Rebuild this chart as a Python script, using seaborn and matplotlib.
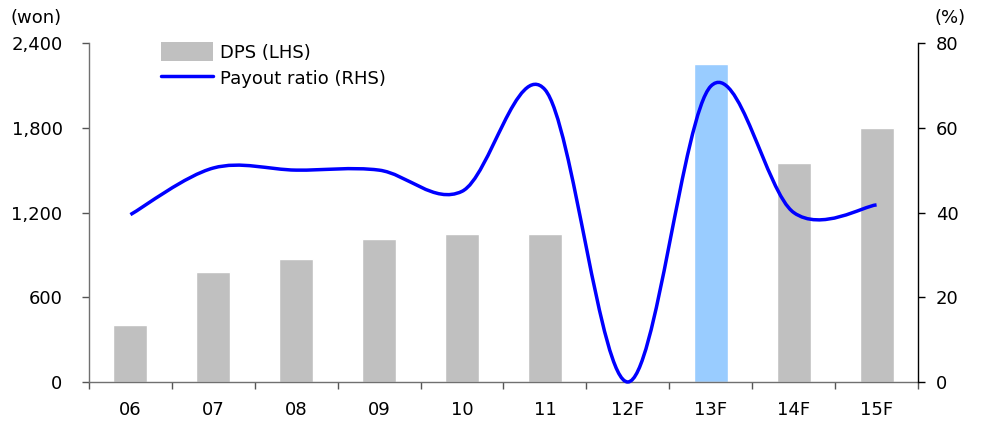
import matplotlib
matplotlib.use("Agg")
import matplotlib.pyplot as plt
from matplotlib.path import Path
from matplotlib.patches import PathPatch
from matplotlib.lines import Line2D
from matplotlib.patches import Patch
import seaborn as sns
import pandas as pd

years = ["06", "07", "08", "09", "10", "11", "12F", "13F", "14F", "15F"]
dps = [400, 780, 870, 1010, 1050, 1050, 0, 2250, 1550, 1800]
payout = [39.5, 50.5, 50.0, 50.0, 45.0, 69.0, 0.0, 69.8, 40.0, 41.8]
bar_colors = ["#C0C0C0"] * 7 + ["#99CCFF"] + ["#C0C0C0"] * 2
left_ticks = [0, 600, 1200, 1800, 2400]
left_labels = ["0", "600", "1,200", "1,800", "2,400"]
right_ticks = [0, 20, 40, 60, 80]

sns.set_theme(style="white")
plt.rcParams["font.family"] = ["DejaVu Sans"]
plt.rcParams["font.size"] = 13
plt.rcParams["text.color"] = "black"
plt.rcParams["xtick.labelcolor"] = "black"
plt.rcParams["ytick.labelcolor"] = "black"

fig = plt.figure(figsize=(9.81, 4.25), dpi=100)
ax = fig.add_axes([0.0907, 0.1012, 0.8451, 0.7976])

df = pd.DataFrame({"year": years, "dps": dps})
sns.barplot(data=df, x="year", y="dps", hue="year", palette=bar_colors,
            legend=False, width=0.41, ax=ax, saturation=1)

ax.set_xlim(-0.5, len(years) - 0.5)
ax.set_ylim(0, 2400)
ax.set_yticks(left_ticks)
ax.set_yticklabels(left_labels)
ax.set_xlabel("")
ax.set_ylabel("")
ax.set_xticks(range(len(years)))
ax.set_xticklabels(years)
ax.set_xticks([i - 0.5 for i in range(len(years) + 1)], minor=True)
ax.tick_params(axis="x", which="major", length=0, pad=14, labelsize=13,
               labelcolor="black")
ax.tick_params(axis="x", which="minor", length=5, width=1, color="#555555",
               direction="out", bottom=True)
ax.tick_params(axis="y", length=5, width=1, color="#555555", direction="out",
               left=True, pad=14, labelsize=13, labelcolor="black")
for s in ["top", "right"]:
    ax.spines[s].set_visible(False)
for s in ["left", "bottom"]:
    ax.spines[s].set_color("#707070")
    ax.spines[s].set_linewidth(1)

ax2 = ax.twinx()
ax2.set_ylim(0, 80)
ax2.set_yticks(right_ticks)
ax2.tick_params(axis="y", length=5, width=1, color="black", direction="out",
                right=True, pad=8, labelsize=13, labelcolor="black")
for s in ["top", "left", "bottom"]:
    ax2.spines[s].set_visible(False)
ax2.spines["right"].set_color("black")
ax2.spines["right"].set_linewidth(1)
ax2.grid(False)
ax.grid(False)

# Smoothed payout line: cubic Bezier segments through each point
xs = list(range(len(payout)))
pts = list(zip(xs, payout))
verts = [pts[0]]
codes = [Path.MOVETO]
n = len(pts)
for i in range(n - 1):
    p0 = pts[i - 1] if i > 0 else pts[i]
    p1 = pts[i]
    p2 = pts[i + 1]
    p3 = pts[i + 2] if i + 2 < n else pts[i + 1]
    c1 = (p1[0] + (p2[0] - p0[0]) / 6, p1[1] + (p2[1] - p0[1]) / 6)
    c2 = (p2[0] - (p3[0] - p1[0]) / 6, p2[1] - (p3[1] - p1[1]) / 6)
    verts += [c1, c2, p2]
    codes += [Path.CURVE4] * 3
ax2.add_patch(PathPatch(Path(verts, codes), facecolor="none",
                        edgecolor="#0000FF", linewidth=2.5,
                        capstyle="butt", joinstyle="round", clip_on=False))

handles = [Patch(facecolor="#C0C0C0", edgecolor="none", label="DPS (LHS)"),
           Line2D([0], [0], color="#0000FF", linewidth=2.5,
                  label="Payout ratio (RHS)")]
leg = ax2.legend(handles=handles, loc="upper left",
                 bbox_to_anchor=(0.078, 1.025), frameon=False, fontsize=13,
                 handlelength=2.9, handleheight=1.3, handletextpad=0.4,
                 labelspacing=0.35, borderaxespad=0)
for t in leg.get_texts():
    t.set_color("black")

fig.text(10 / 981, 1 - 18 / 425, "(won)", fontsize=13, va="center",
         ha="left", color="black")
fig.text(934 / 981, 1 - 18 / 425, "(%)", fontsize=13, va="center",
         ha="left", color="black")

fig.savefig("out.png", dpi=100, facecolor="white")
